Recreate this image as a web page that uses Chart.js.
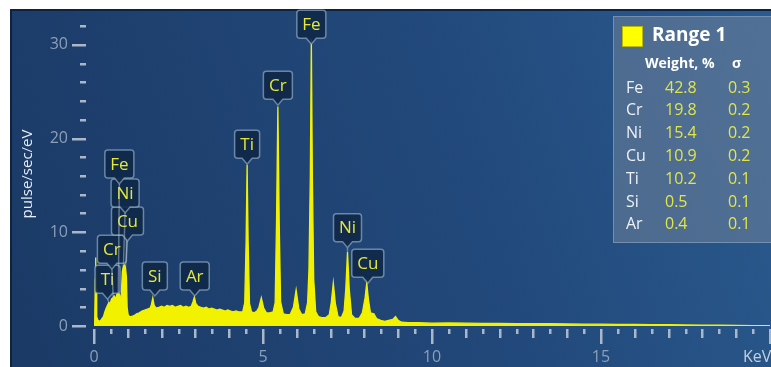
<!DOCTYPE html>
<html>
<head>
<meta charset="utf-8">
<title>EDS spectrum</title>
<script src="https://cdn.jsdelivr.net/npm/chart.js@4.4.1/dist/chart.umd.min.js"></script>
<style>
  html, body { margin: 0; padding: 0; background: #fff; }
  #wrap { position: relative; width: 771px; height: 367px; }
</style>
</head>
<body>
<div id="wrap"><canvas id="edsChart" width="771" height="367"></canvas></div>
<script>
// spectrum: [energy keV, pulse/sec/eV]
const spectrum = [
  // L lines at low energy
  [0.00,0.0],[0.02,0.4],[0.04,5.0],[0.05,7.3],[0.06,4.0],[0.08,1.0],[0.12,0.6],[0.18,0.5],
  [0.24,0.8],[0.28,1.0],[0.32,1.5],[0.36,1.9],[0.40,2.2],[0.44,2.5],[0.48,2.4],[0.52,2.9],
  [0.56,3.0],[0.60,3.2],[0.64,2.9],[0.68,3.4],[0.72,3.6],[0.76,3.3],[0.79,2.4],[0.81,3.5],
  [0.84,5.8],[0.87,6.4],[0.90,6.5],[0.93,6.3],[0.96,5.2],[0.98,2.0],[1.01,1.2],[1.05,1.0],
  // background hump with Si and Ar
  [1.10,1.0],[1.18,1.1],[1.26,1.3],[1.34,1.4],[1.42,1.6],[1.50,1.7],[1.58,1.8],[1.66,1.9],
  [1.70,2.3],[1.74,3.0],[1.78,2.2],[1.84,1.9],[1.92,2.0],[2.00,2.1],[2.08,2.0],[2.16,2.2],
  [2.24,2.1],[2.32,2.2],[2.40,2.0],[2.48,2.1],[2.56,2.2],[2.64,2.0],[2.72,2.1],[2.80,2.0],
  [2.88,2.1],[2.93,2.6],[2.97,3.1],[3.01,2.4],[3.08,2.1],[3.16,2.0],[3.24,1.9],[3.32,2.0],
  [3.40,1.8],[3.48,1.9],[3.56,1.8],[3.64,1.7],[3.72,1.8],[3.80,1.7],[3.88,1.6],[3.96,1.7],
  [4.04,1.6],[4.12,1.5],[4.20,1.6],[4.28,1.5],[4.36,1.5],
  // Ti K
  [4.40,1.5],[4.46,2.5],[4.50,9.0],[4.53,17.2],[4.56,9.0],[4.60,2.4],[4.66,1.5],[4.74,1.4],
  [4.82,1.6],[4.88,2.0],[4.95,3.0],[5.02,1.9],[5.10,1.4],[5.20,1.4],[5.30,1.5],
  // Cr K
  [5.36,2.5],[5.40,11.0],[5.44,23.4],[5.48,11.0],[5.52,2.6],[5.60,1.3],[5.70,1.2],[5.80,1.2],
  [5.90,2.0],[5.98,3.85],[6.06,1.8],[6.15,1.2],[6.25,1.3],[6.32,2.5],
  // Fe K
  [6.36,6.0],[6.40,16.0],[6.43,30.6],[6.46,16.0],[6.50,5.0],[6.56,1.5],[6.64,1.0],[6.74,0.9],
  [6.86,0.9],[6.96,1.2],[7.02,2.5],[7.08,4.6],[7.14,2.4],[7.22,1.0],[7.32,0.9],[7.40,1.6],
  // Ni and Cu K
  [7.45,4.0],[7.50,7.9],[7.55,4.0],[7.62,1.2],[7.72,0.8],[7.84,0.8],[7.94,1.4],
  [8.02,3.0],[8.07,4.6],[8.12,2.8],[8.18,1.4],[8.28,1.3],[8.36,0.8],[8.48,0.6],[8.60,0.5],
  [8.72,0.6],[8.84,0.7],[8.92,1.0],[9.00,0.6],[9.10,0.4],[9.30,0.35],
  // tail
  [9.6,0.35],[10.0,0.3],[10.5,0.32],[11.0,0.3],[11.5,0.28],[12.0,0.27],[12.5,0.26],[13.0,0.25],
  [13.5,0.25],[14.0,0.22],[14.5,0.2],[15.0,0.2],[15.5,0.18],[16.0,0.17],[16.5,0.15],[17.0,0.14],
  [17.5,0.12],[18.0,0.1],[18.5,0.08],[19.0,0.06],[19.5,0.05],[20.0,0.04]
];

// peak tags: name, peak energy, peak height (where the pointer ends)
const peakNames  = ['Ti', 'Cr', 'Cu', 'Ni', 'Fe', 'Si', 'Ar', 'Ti', 'Cr', 'Fe', 'Ni', 'Cu'];
const peakKeV    = [0.45, 0.57, 0.93, 0.87, 0.72, 1.74, 2.97, 4.53, 5.44, 6.43, 7.50, 8.07];
const peakHeight = [2.5,  3.0,  6.3,  6.4,  3.6,  3.0,  3.1,  17.2, 23.4, 30.6, 7.9,  4.6];
// where each tag box sits (bottom centre, in axis units)
const tagKeV     = [0.40, 0.53, 0.99, 0.92, 0.75, 1.80, 2.98, 4.53, 5.44, 6.43, 7.50, 8.10];
const tagBottom  = [3.5,  6.7,  9.7,  12.7, 15.8, 3.85, 3.85, 17.9, 24.2, 30.7, 9.0,  5.2];

// quantification table
const tableTitle = 'Range 1';
const elements = ['Fe', 'Cr', 'Ni', 'Cu', 'Ti', 'Si', 'Ar'];
const weights  = ['42.8', '19.8', '15.4', '10.9', '10.2', '0.5', '0.4'];
const sigmas   = ['0.3', '0.2', '0.2', '0.2', '0.1', '0.1', '0.1'];

const xTickLabels = [0, 5, 10, 15];
const yTickLabels = [0, 10, 20, 30];

const FONT = '"Open Sans", sans-serif';
const YELLOW = '#f2f200';
Chart.defaults.font.family = FONT;

const panelPlugin = {
  id: 'panel',
  beforeDraw(chart) {
    const ctx = chart.ctx;
    ctx.save();
    ctx.fillStyle = '#ffffff';
    ctx.fillRect(0, 0, chart.width, chart.height);
    const g = ctx.createLinearGradient(11, 300, 771, 60);
    g.addColorStop(0, '#1b3a66');
    g.addColorStop(0.6, '#22497b');
    g.addColorStop(1, '#2a5a8e');
    ctx.fillStyle = g;
    ctx.fillRect(11, 10, chart.width - 11, chart.height - 10);
    ctx.strokeStyle = '#0e2340';
    ctx.lineWidth = 2;
    ctx.beginPath();
    ctx.moveTo(11, chart.height);
    ctx.lineTo(11, 10);
    ctx.lineTo(chart.width, 10);
    ctx.stroke();
    ctx.restore();
  }
};

const axisDecor = {
  id: 'axisDecor',
  beforeDatasetsDraw(chart) {
    const ctx = chart.ctx;
    const xs = chart.scales.x, ys = chart.scales.y;
    ctx.save();
    ctx.fillStyle = '#a9b7c9';
    // y ticks every 2
    for (let v = 0; v <= 32; v += 2) {
      const y = Math.round(ys.getPixelForValue(v));
      if (v % 10 === 0) ctx.fillRect(72, y - 1, 14, 2.5);
      else ctx.fillRect(80, y - 1, 6, 2.5);
    }
    // x ticks every 0.5
    for (let i = 0; i <= 40; i++) {
      const v = i / 2;
      const x = Math.round(xs.getPixelForValue(v));
      let len = 5;
      if (i % 10 === 0) len = 15;
      else if (i % 2 === 0) len = 9;
      ctx.fillRect(x - 1, 329, 2.5, len);
    }
    // axis titles
    ctx.fillStyle = '#e9eef5';
    ctx.font = '15px ' + FONT;
    ctx.textAlign = 'center';
    ctx.textBaseline = 'middle';
    ctx.translate(28, 174);
    ctx.rotate(-Math.PI / 2);
    ctx.fillText('pulse/sec/eV', 0, 0);
    ctx.restore();
    ctx.save();
    ctx.fillStyle = '#c5d0de';
    ctx.font = '16px ' + FONT;
    ctx.textAlign = 'left';
    ctx.textBaseline = 'middle';
    ctx.fillText('KeV', 743, 357);
    ctx.restore();
  }
};

function drawTag(ctx, name, cx, by, ax, ay) {
  ctx.font = '17px ' + FONT;
  const w = Math.round(ctx.measureText(name).width) + 11;
  const h = 28, r = 3, p = 5, tip = 6;
  const x0 = cx - w / 2, y0 = by - h;
  if (ay > by + tip + 2) {
    ctx.strokeStyle = 'rgba(190,205,222,0.45)';
    ctx.lineWidth = 1.5;
    ctx.beginPath();
    ctx.moveTo(cx, by + tip);
    ctx.lineTo(ax, ay);
    ctx.stroke();
  }
  ctx.beginPath();
  ctx.moveTo(x0 + r, y0);
  ctx.lineTo(x0 + w - r, y0);
  ctx.quadraticCurveTo(x0 + w, y0, x0 + w, y0 + r);
  ctx.lineTo(x0 + w, by - r);
  ctx.quadraticCurveTo(x0 + w, by, x0 + w - r, by);
  ctx.lineTo(cx + p, by);
  ctx.lineTo(cx, by + tip);
  ctx.lineTo(cx - p, by);
  ctx.lineTo(x0 + r, by);
  ctx.quadraticCurveTo(x0, by, x0, by - r);
  ctx.lineTo(x0, y0 + r);
  ctx.quadraticCurveTo(x0, y0, x0 + r, y0);
  ctx.closePath();
  ctx.fillStyle = 'rgba(16,40,72,0.9)';
  ctx.fill();
  ctx.strokeStyle = 'rgba(150,178,206,0.65)';
  ctx.lineWidth = 1.5;
  ctx.stroke();
  ctx.fillStyle = '#e4e83c';
  ctx.textAlign = 'center';
  ctx.textBaseline = 'middle';
  ctx.fillText(name, cx, y0 + h / 2 + 1);
}

const peakTags = {
  id: 'peakTags',
  afterDatasetsDraw(chart) {
    const ctx = chart.ctx;
    const xs = chart.scales.x, ys = chart.scales.y;
    ctx.save();
    peakNames.forEach((name, i) => {
      drawTag(ctx, name,
        xs.getPixelForValue(tagKeV[i]), ys.getPixelForValue(tagBottom[i]),
        xs.getPixelForValue(peakKeV[i]), ys.getPixelForValue(peakHeight[i]));
    });
    ctx.restore();
  }
};

const resultsTable = {
  id: 'resultsTable',
  afterDraw(chart) {
    const ctx = chart.ctx;
    ctx.save();
    ctx.fillStyle = 'rgba(118,134,156,0.5)';
    ctx.fillRect(613, 16, 160, 227);
    ctx.strokeStyle = 'rgba(150,172,198,0.55)';
    ctx.lineWidth = 1;
    ctx.strokeRect(613.5, 16.5, 160, 226);
    ctx.fillStyle = '#ffff00';
    ctx.fillRect(622, 26, 21, 21);
    ctx.strokeStyle = '#b8b800';
    ctx.strokeRect(622.5, 26.5, 20, 20);
    ctx.textBaseline = 'middle';
    ctx.textAlign = 'left';
    ctx.fillStyle = '#ffffff';
    ctx.font = 'bold 19px ' + FONT;
    ctx.fillText(tableTitle, 652, 36);
    ctx.font = 'bold 14px ' + FONT;
    ctx.fillText('Weight, %', 645, 64);
    ctx.fillText('σ', 732, 64);
    ctx.font = '16px ' + FONT;
    elements.forEach((el, i) => {
      const y = 88 + i * 22.8;
      ctx.fillStyle = '#eef2f7';
      ctx.fillText(el, 626, y);
      ctx.fillStyle = '#e0e648';
      ctx.fillText(weights[i], 665, y);
      ctx.fillText(sigmas[i], 728, y);
    });
    ctx.restore();
  }
};

const ctx = document.getElementById('edsChart').getContext('2d');

const edsChart = new Chart(ctx, {
  type: 'line',
  data: {
    datasets: [{
      data: spectrum.map(p => ({ x: p[0], y: p[1] })),
      borderColor: YELLOW,
      backgroundColor: YELLOW,
      borderWidth: 1.3,
      fill: 'origin',
      pointRadius: 0,
      tension: 0
    }]
  },
  options: {
    responsive: false,
    animation: false,
    layout: { padding: { left: 11, top: 11, right: 1, bottom: 0 } },
    plugins: { legend: { display: false }, tooltip: { enabled: false } },
    scales: {
      x: {
        type: 'linear',
        min: 0,
        max: 20,
        grid: { display: false, drawTicks: false },
        border: { display: false },
        afterBuildTicks: s => { s.ticks = xTickLabels.map(v => ({ value: v })); },
        afterFit: s => { s.height = 41; s.paddingLeft = 0; s.paddingRight = 0; },
        ticks: {
          color: '#8d9fb7',
          font: { size: 16 },
          padding: 22,
          maxRotation: 0,
          autoSkip: false
        }
      },
      y: {
        min: 0,
        max: 33.6,
        grid: { display: false, drawTicks: false },
        border: { display: false },
        afterBuildTicks: s => { s.ticks = yTickLabels.map(v => ({ value: v })); },
        afterFit: s => { s.width = 83; s.paddingTop = 0; s.paddingBottom = 0; },
        ticks: {
          color: '#8d9fb7',
          font: { size: 16 },
          padding: 26
        }
      }
    }
  },
  plugins: [panelPlugin, axisDecor, peakTags, resultsTable]
});
</script>
</body>
</html>
